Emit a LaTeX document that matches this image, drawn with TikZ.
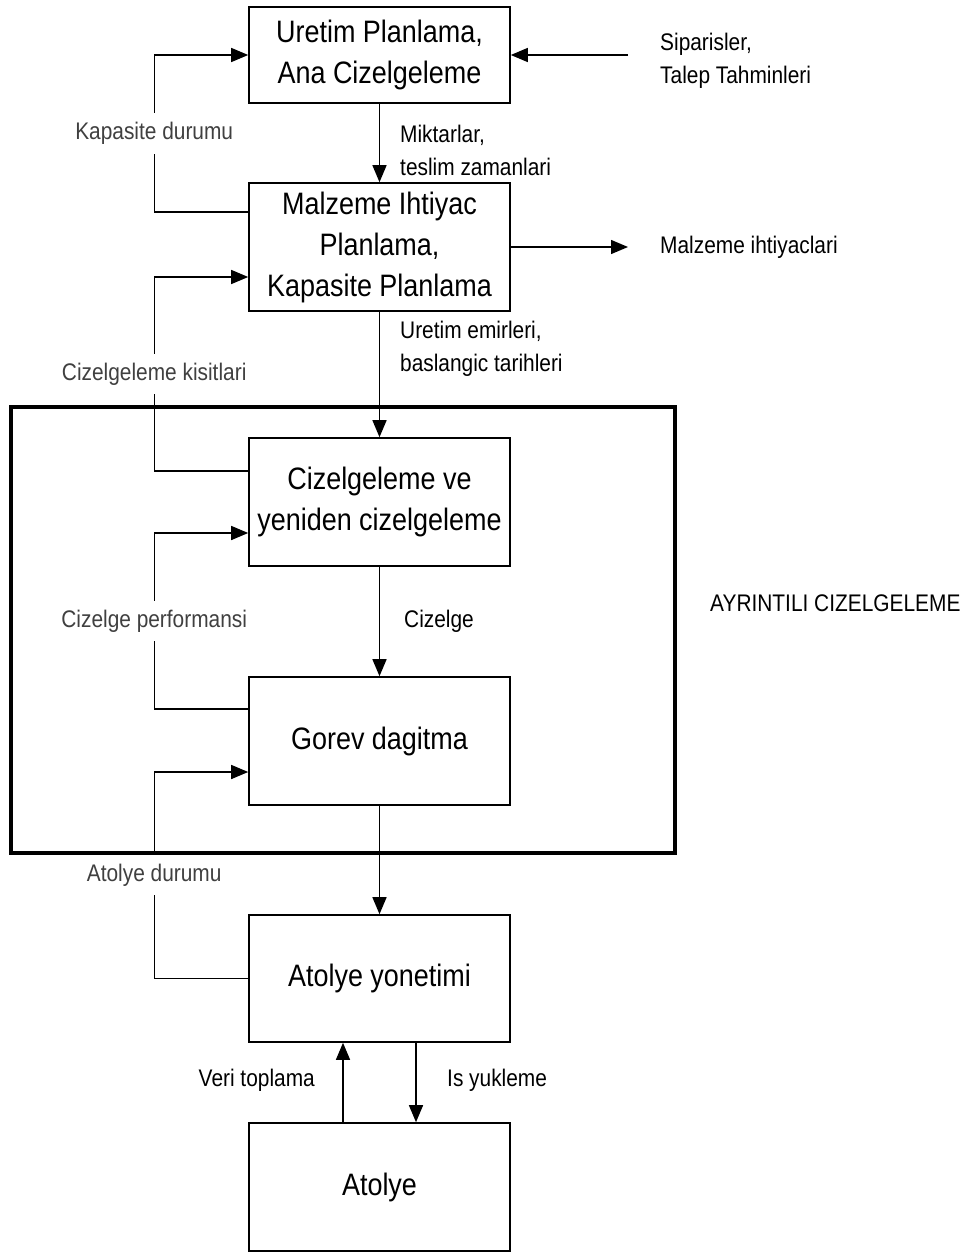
\documentclass[tikz,border=0pt]{standalone}
\usepackage{fontspec}
\setmainfont[FakeStretch=0.87]{Liberation Sans}
\usetikzlibrary{arrows.meta,positioning}

\tikzset{
  blok/.style={draw, line width=1.6pt, minimum width=261pt, align=center, inner sep=0pt,
    font=\fontsize{31}{41}\selectfont},
  akis/.style={line width=1.4pt, -{Triangle[length=17pt,width=14pt]}},
  etiket/.style={font=\fontsize{24}{33}\selectfont, align=left, inner sep=0pt},
  geri/.style={etiket, text=black!75, fill=white, inner xsep=2pt, inner ysep=9pt},
}

\begin{document}
\begin{tikzpicture}[x=1pt,y=-1pt]
\useasboundingbox (0,0) rectangle (971,1253);
% kutular
\node[blok, minimum height=96pt] (uretim) at (379.5,55) {Uretim Planlama,\\Ana Cizelgeleme};
\node[blok, minimum height=128pt] (mip) at (379.5,247) {Malzeme Ihtiyac\\Planlama,\\Kapasite Planlama};
\node[blok, minimum height=128pt] (cizel) at (379.5,502) {Cizelgeleme ve\\yeniden cizelgeleme};
\node[blok, minimum height=128pt] (gorev) at (379.5,741) {Gorev dagitma};
\node[blok, minimum height=127pt] (atyon) at (379.5,978.5) {Atolye yonetimi};
\node[blok, minimum height=128pt] (atolye) at (379.5,1187) {Atolye};
% ayrintili cizelgeleme cercevesi
\node[draw, line width=3.5pt, minimum width=664pt, minimum height=446pt, inner sep=0pt] (ayrinti) at (343,630) {};
\node[etiket, anchor=west] (ayrintiad) at (710,603) {AYRINTILI CIZELGELEME};
% disaridan gelen / giden
\node[etiket, anchor=west] (siparis) at (660,61) {Siparisler,\\Talep Tahminleri};
\coordinate (sipok) at (628,55);
\draw[akis] (sipok) -- (uretim.east);
\node[etiket, anchor=west] (ihtiyac) at (660,247) {Malzeme ihtiyaclari};
\coordinate (ihtok) at (628,247);
\draw[akis] (mip.east) -- (ihtok);
% ana akis
\draw[akis] (uretim) -- (mip);
\node[etiket, anchor=west] (miktar) at (400,150) {Miktarlar,\\teslim zamanlari};
\draw[akis] (mip) -- (cizel);
\node[etiket, anchor=west] (emir) at (400,349) {Uretim emirleri,\\baslangic tarihleri};
\draw[akis] (cizel) -- (gorev);
\node[etiket, anchor=west] (cizelge) at (404,621) {Cizelge};
\draw[akis] (gorev) -- (atyon);
\draw[akis] ([xshift=-36.5pt]atolye.north) -- ([xshift=-36.5pt]atyon.south);
\node[etiket, anchor=east] (veri) at (315,1080) {Veri toplama};
\draw[akis] ([xshift=36.5pt]atyon.south) -- ([xshift=36.5pt]atolye.north);
\node[etiket, anchor=west] (isyuk) at (447,1080) {Is yukleme};
% geri beslemeler
\draw[akis] ([yshift=35pt]mip.west) -- ++(-94,0) |- node[geri, pos=0.25] {Kapasite durumu} (uretim.west);
\draw[akis] ([yshift=31pt]cizel.west) -- ++(-94,0) |- node[geri, pos=0.25] {Cizelgeleme kisitlari} ([yshift=-30pt]mip.west);
\draw[akis] ([yshift=32pt]gorev.west) -- ++(-94,0) |- node[geri, pos=0.25] {Cizelge performansi} ([yshift=-31pt]cizel.west);
\draw[akis] (atyon.west) -- ++(-94,0) |- node[geri, pos=0.25] {Atolye durumu} ([yshift=-31pt]gorev.west);
\end{tikzpicture}
\end{document}
